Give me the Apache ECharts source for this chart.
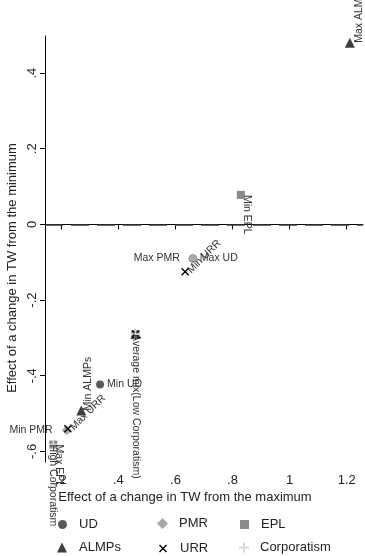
<!DOCTYPE html>
<html><head><meta charset="utf-8">
<script src="https://cdn.jsdelivr.net/npm/echarts@6/dist/echarts.min.js"></script>
<style>html,body{margin:0;padding:0;background:#fff}#c{width:365px;height:556px}</style>
</head><body><div id="c"></div>
<script>
// ---- data ----
const xTicks = [0.2, 0.4, 0.6, 0.8, 1.0, 1.2];
const yTicks = [-0.6, -0.4, -0.2, 0, 0.2, 0.4];
const xRange = [0.143, 1.257];
const yRange = [-0.628, 0.498];
const refLineY = 0;

const udX = [0.661, 0.336, 0.460];
const udY = [-0.090, -0.423, -0.290];
const udLabels = ['Max UD', 'Min UD', ''];

const pmrX = [0.661, 0.219, 0.460];
const pmrY = [-0.090, -0.544, -0.290];
const pmrLabels = ['Max PMR', 'Min PMR', ''];

const eplX = [0.829, 0.172, 0.460];
const eplY = [0.078, -0.582, -0.290];
const eplLabels = ['Min EPL', 'Max EPL', ''];

const almpX = [1.211, 0.270, 0.460];
const almpY = [0.480, -0.492, -0.290];
const almpLabels = ['Max ALMPs', 'Min ALMPs', ''];

const urrX = [0.634, 0.223, 0.460];
const urrY = [-0.125, -0.540, -0.290];
const urrLabels = ['Min URR', 'Max URR', ''];

const corpX = [0.172, 0.460];
const corpY = [-0.582, -0.290];
const corpLabels = ['High Corporatism', 'Average mix(Low Corporatism)'];

// ---- styles ----
const PLUS = 'path://M4,0 H6 V4 H10 V6 H6 V10 H4 V6 H0 V4 H4 Z';
const CROSS = 'path://M1.2,0 L5,3.8 L8.8,0 L10,1.2 L6.2,5 L10,8.8 L8.8,10 L5,6.2 L1.2,10 L0,8.8 L3.8,5 L0,1.2 Z';

const labelLayout = {
  'Max UD': {position: 'right', distance: 3},
  'Min UD': {position: 'right', distance: 3},
  'Max PMR': {position: 'left', distance: 8},
  'Min PMR': {position: 'left', distance: 9},
  'Min EPL': {position: 'right', distance: 2, rotate: -90},
  'Max EPL': {position: 'right', distance: 2, rotate: -90},
  'Max ALMPs': {position: 'right', distance: 4, rotate: 90},
  'Min ALMPs': {position: 'right', distance: 2, rotate: 90},
  'Min URR': {position: 'right', distance: 0, rotate: 45},
  'Max URR': {position: 'right', distance: 0, rotate: 45},
  'High Corporatism': {position: 'inside', align: 'left', rotate: -90},
  'Average mix(Low Corporatism)': {position: 'inside', align: 'left', rotate: -90}
};

function buildData(xs, ys, labels) {
  return xs.map((x, i) => {
    const d = {value: [x, ys[i]]};
    if (labels[i]) {
      d.label = Object.assign({show: true, formatter: labels[i]}, labelLayout[labels[i]]);
    }
    return d;
  });
}

const lblText = {fontFamily: 'Liberation Sans, Arial, sans-serif', fontSize: 10.5, color: '#333'};

function mkSeries(name, xs, ys, labels, symbol, size, color) {
  return {
    name: name, type: 'scatter', symbol: symbol, symbolSize: size, z: 3,
    itemStyle: {color: color, opacity: 1},
    label: Object.assign({show: false}, lblText),
    labelLayout: {hideOverlap: false},
    emphasis: {disabled: true},
    data: buildData(xs, ys, labels)
  };
}

const series = [
  mkSeries('UD', udX, udY, udLabels, 'circle', 8, '#5a5a5a'),
  mkSeries('PMR', pmrX, pmrY, pmrLabels, 'diamond', 10, '#a9a9a9'),
  mkSeries('EPL', eplX, eplY, eplLabels, 'rect', 8, '#8a8a8a'),
  mkSeries('ALMPs', almpX, almpY, almpLabels, 'triangle', 10, '#3e3e3e'),
  mkSeries('URR', urrX, urrY, urrLabels, CROSS, 8, '#000000'),
  mkSeries('Corporatism', corpX, corpY, corpLabels, PLUS, 9, '#d8d8d8')
];
series[0].markLine = {
  silent: true, symbol: ['none', 'none'], label: {show: false}, animation: false,
  lineStyle: {type: 'dashed', dashOffset: 0, color: '#3a3a3a', width: 1.6, opacity: 1},
  emphasis: {disabled: true},
  data: [{yAxis: refLineY}]
};
// explicit dash pattern (long dashes)
series[0].markLine.lineStyle.type = [18, 8];

const fmt = v => String(Math.round(v * 10) / 10).replace(/^(-?)0\./, '$1.');
const axisFont = {fontFamily: 'Liberation Sans, Arial, sans-serif', fontSize: 13, color: '#222'};

// [name, left, top, iconSize, textGap]
const legendPos = [
  ['UD', 58, 518, 9, 7], ['PMR', 157, 517, 11, 6], ['EPL', 240, 518, 9, 7],
  ['ALMPs', 57, 541, 10, 7], ['URR', 159, 542, 8, 8], ['Corporatism', 239, 541, 10, 6]
];

const option = {
  animation: false,
  backgroundColor: '#fff',
  grid: {left: 45, right: 2, top: 36, bottom: 94, containLabel: false},
  xAxis: {
    type: 'value', min: xRange[0], max: xRange[1],
    axisLine: {show: true, lineStyle: {color: '#000', width: 1}},
    axisTick: {show: true, length: 5, customValues: xTicks, lineStyle: {color: '#000'}},
    axisLabel: Object.assign({customValues: xTicks, formatter: fmt, margin: 12}, axisFont),
    splitLine: {show: false}
  },
  yAxis: {
    type: 'value', min: yRange[0], max: yRange[1],
    axisLine: {show: true, lineStyle: {color: '#000', width: 1}},
    axisTick: {show: true, length: 5, customValues: yTicks, lineStyle: {color: '#000'}},
    axisLabel: Object.assign({customValues: yTicks, formatter: fmt, rotate: 90, margin: 6}, axisFont),
    splitLine: {show: false}
  },
  legend: legendPos.map(p => ({
    data: [p[0]], left: p[1], top: p[2], itemWidth: p[3], itemHeight: p[3],
    padding: 0, selectedMode: false,
    textStyle: {fontFamily: 'Liberation Sans, Arial, sans-serif', fontSize: 13, color: '#222',
                padding: [0, 0, 0, p[4]]}
  })),
  graphic: [
    {type: 'text', x: 185, y: 497,
     style: {text: 'Effect of a change in TW from the maximum', fill: '#222', align: 'center', verticalAlign: 'middle',
             font: '13px "Liberation Sans", Arial, sans-serif'}},
    {type: 'text', x: 12, y: 268, rotation: Math.PI / 2,
     style: {text: 'Effect of a change in TW from the minimum', fill: '#222', align: 'center', verticalAlign: 'middle',
             font: '13px "Liberation Sans", Arial, sans-serif'}}
  ],
  series: series
};

const chart = echarts.init(document.getElementById('c'), null, {renderer: 'canvas'});
chart.setOption(option);
</script></body></html>
